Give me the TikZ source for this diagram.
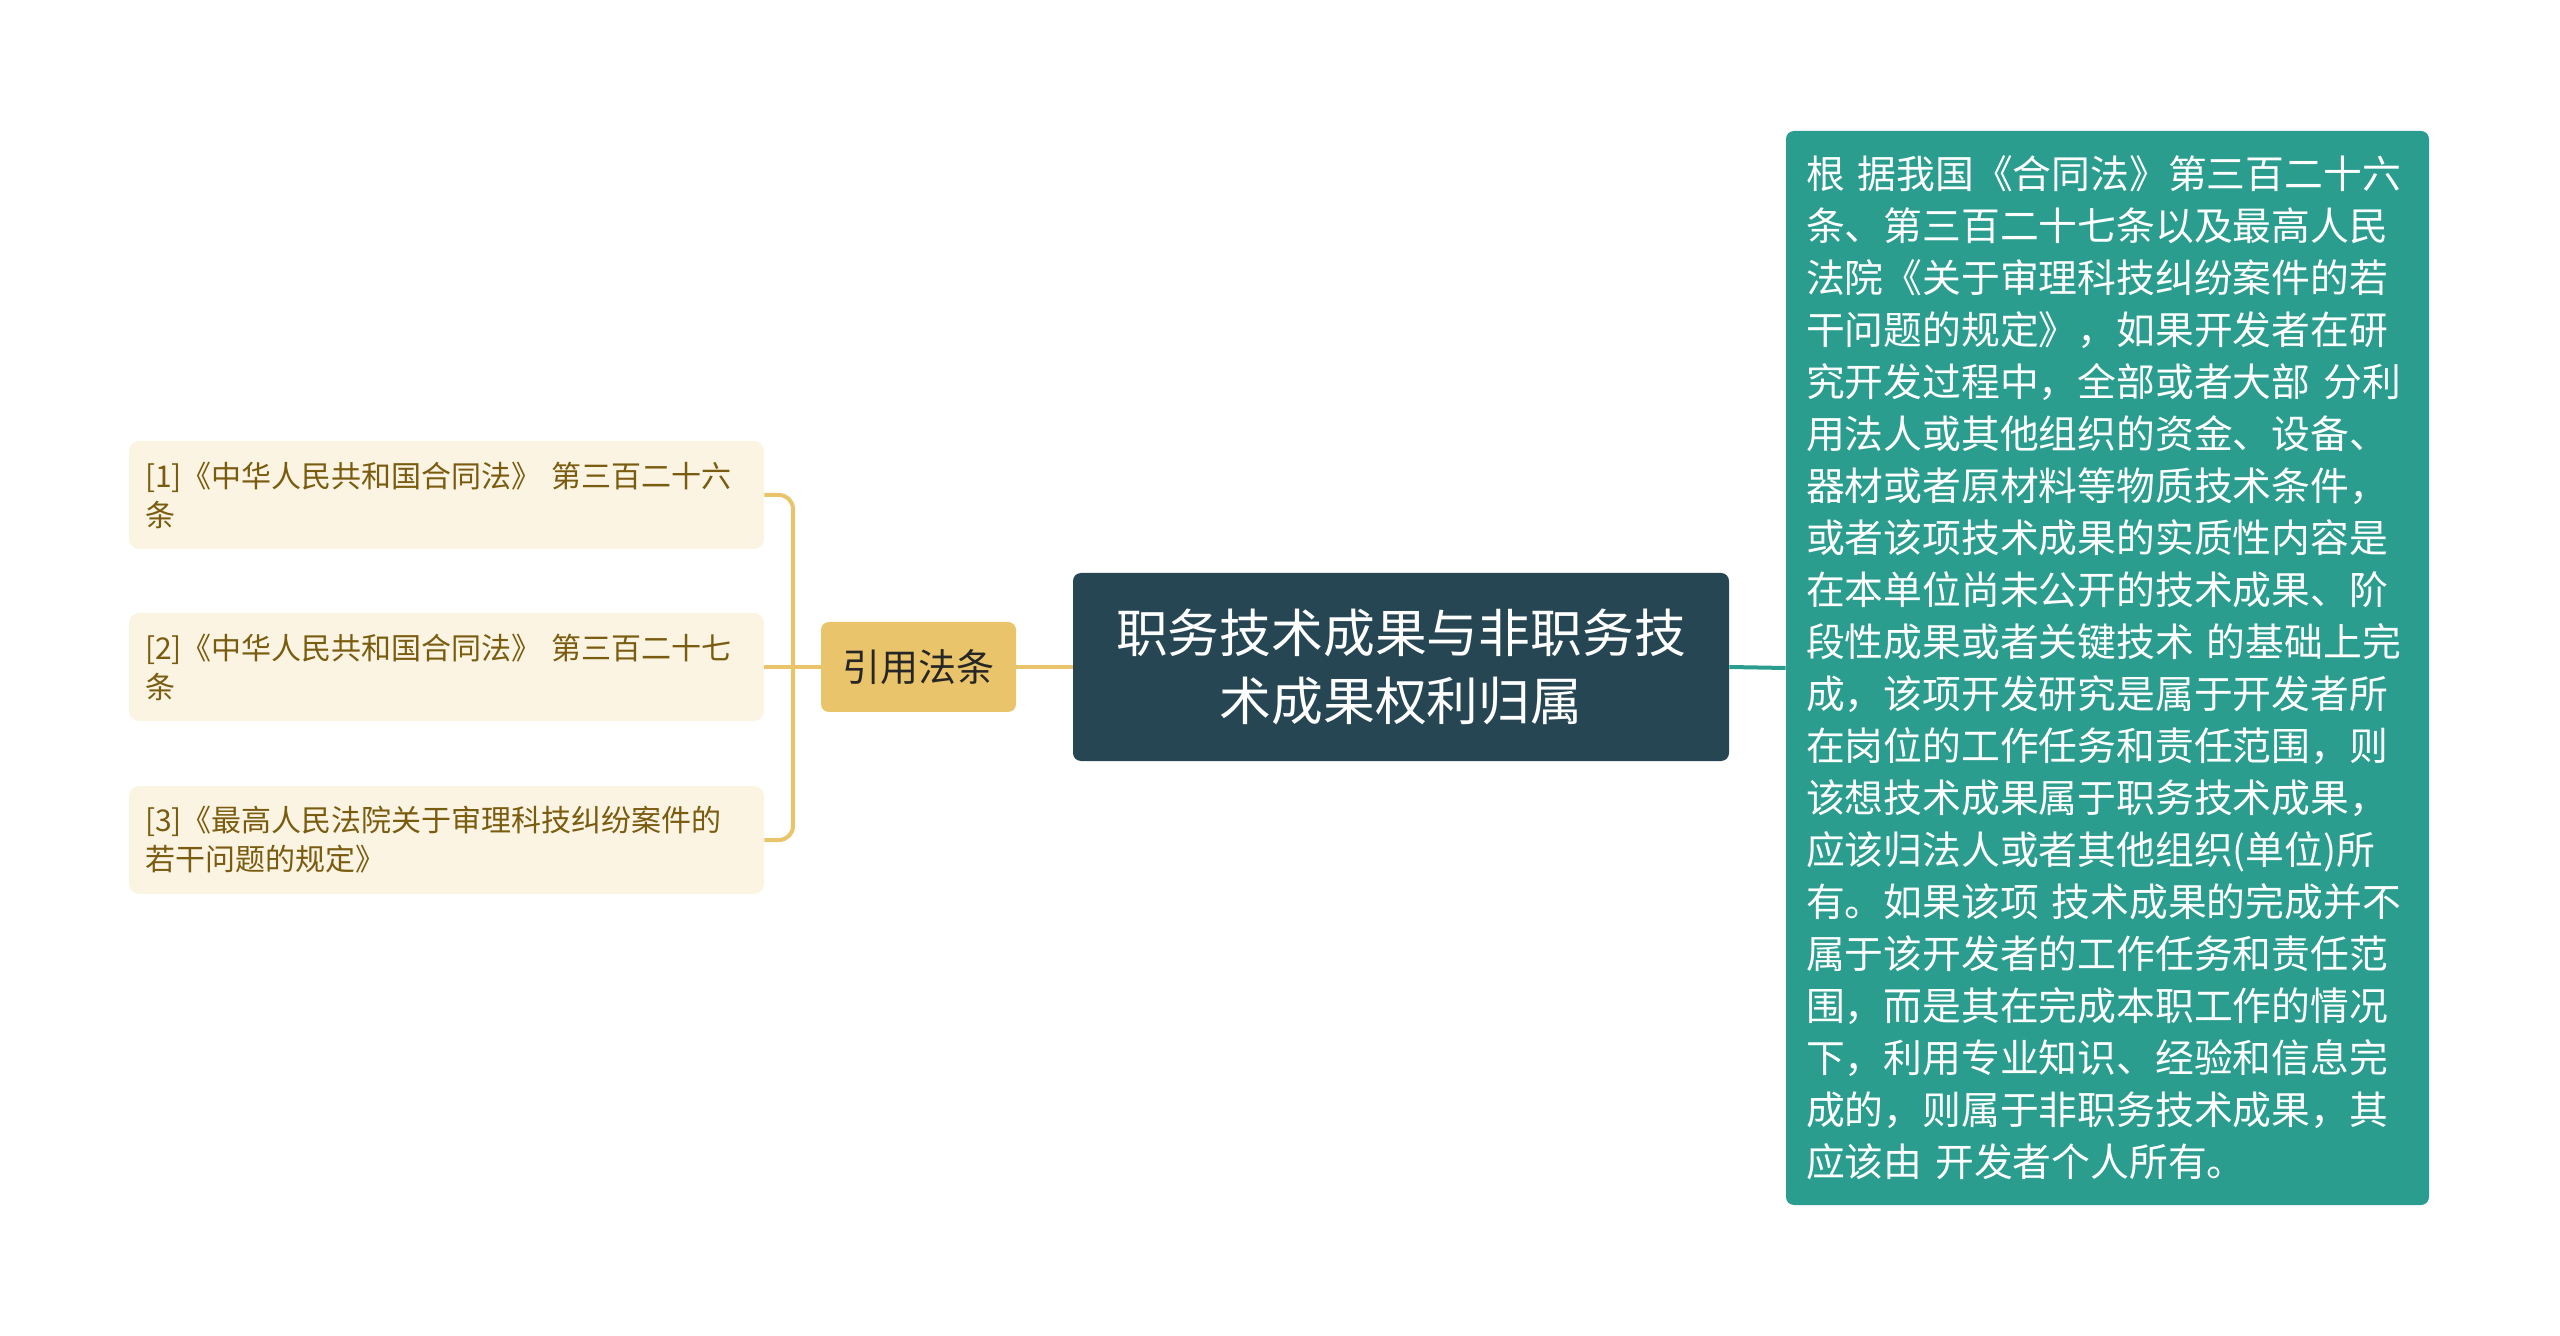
\documentclass[tikz,border=0pt]{standalone}
\usepackage{fontspec}
\setmainfont{Noto Sans CJK SC}
\usetikzlibrary{positioning}
\definecolor{rootfill}{RGB}{38,70,83}
\definecolor{citefill}{RGB}{233,196,106}
\definecolor{leaffill}{RGB}{251,244,226}
\definecolor{leaftext}{RGB}{122,92,16}
\definecolor{detailfill}{RGB}{42,157,143}
\newcommand\leaf[3]{\node(#1)[leafbox] at (446.5,#2){#3};}

\begin{document}
\begin{tikzpicture}[x=0.5pt,y=-0.5pt,
    rootbox/.style={fill=rootfill,text=white,rounded corners=4pt,align=center,
        minimum width=328pt,minimum height=94pt,font=\fontsize{25.9}{34.3}\selectfont},
    citebox/.style={fill=citefill,text=black!85,rounded corners=4pt,
        minimum width=97.5pt,minimum height=45pt,font=\fontsize{19}{24}\selectfont},
    leafbox/.style={fill=leaffill,text=leaftext,rounded corners=5pt,align=left,
        text width=301.5pt,inner xsep=8pt,minimum height=54pt,font=\fontsize{15}{19.5}\selectfont},
    detailbox/.style={fill=detailfill,text=white,rounded corners=4pt,align=left,
        text width=301.5pt,inner xsep=10pt,minimum height=537pt,font=\fontsize{19.4}{26}\selectfont},
    citeline/.style={draw=citefill,line width=2pt},
    detailline/.style={draw=detailfill,line width=2pt},
  ]
    \useasboundingbox (0,0) rectangle (2560,1336);
    % connectors
    \coordinate (fork) at (793,667);
    % nodes
    \node(root)[rootbox] at (1401,667){职务技术成果与非职务技\\术成果权利归属};
    \node(cite)[citebox] at (918.5,667){引用法条};
    \leaf{law1}{495}{[1]《中华人民共和国合同法》~第三百二十六\\条}
    \leaf{law2}{667}{[2]《中华人民共和国合同法》~第三百二十七\\条}
    \leaf{law3}{840}{[3]《最高人民法院关于审理科技纠纷案件的\\若干问题的规定》}
    \node(detail)[detailbox] at (2107.5,668){根~据我国《合同法》第三百二十六\\
条、第三百二十七条以及最高人民\\
法院《关于审理科技纠纷案件的若\\
干问题的规定》，如果开发者在研\\
究开发过程中，全部或者大部~分利\\
用法人或其他组织的资金、设备、\\
器材或者原材料等物质技术条件，\\
或者该项技术成果的实质性内容是\\
在本单位尚未公开的技术成果、阶\\
段性成果或者关键技术~的基础上完\\
成，该项开发研究是属于开发者所\\
在岗位的工作任务和责任范围，则\\
该想技术成果属于职务技术成果，\\
应该归法人或者其他组织(单位)所\\
有。如果该项~技术成果的完成并不\\
属于该开发者的工作任务和责任范\\
围，而是其在完成本职工作的情况\\
下，利用专业知识、经验和信息完\\
成的，则属于非职务技术成果，其\\
应该由~开发者个人所有。};
    \draw[detailline] (root.east) -- (detail.west);
    \draw[citeline] (cite.east) -- (root.west);
    \draw[citeline] (law2.east) -- (cite.west);
    \draw[citeline,rounded corners=7pt] (law1.east) -| (fork) |- (law3.east);
\end{tikzpicture}
\end{document}
